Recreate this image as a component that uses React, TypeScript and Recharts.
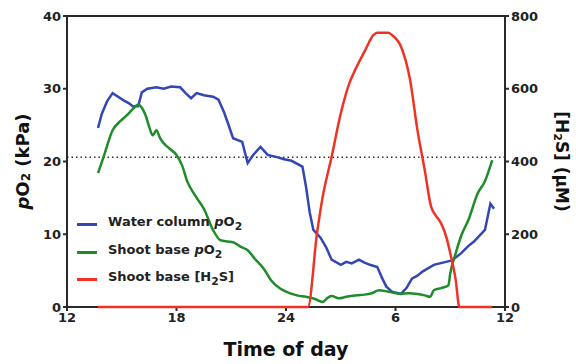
import { LineChart, Line, XAxis, YAxis, ReferenceLine, Legend, Label } from "recharts";

// time in hours from midnight of day 1 (24 = midnight, 30 = 6 am next day)
const waterTime = [
  13.7, 13.9, 14.2, 14.5, 14.8, 15.1, 15.4, 15.6, 15.9, 16.1, 16.4, 16.9, 17.3, 17.7, 18.2,
  18.5, 18.8, 19.1, 19.5, 20.0, 20.3, 20.6, 20.8, 21.1, 21.6, 21.9, 22.2, 22.6, 23.0, 23.5,
  23.9, 24.3, 24.9, 25.1, 25.3, 25.5, 25.9, 26.2, 26.5, 27.0, 27.3, 27.6, 28.0, 28.3, 28.6,
  29.0, 29.3, 29.5, 29.8, 30.3, 30.6, 30.9, 31.2, 31.5, 32.1, 32.6, 33.1, 33.6, 34.0, 34.3,
  34.9, 35.2, 35.4,
];
const waterPO2 = [
  24.6, 26.5, 28.3, 29.4, 28.9, 28.4, 28.0, 27.6, 27.6, 29.5, 30.0, 30.2, 30.0, 30.3, 30.2,
  29.4, 28.7, 29.4, 29.1, 28.9, 28.5, 26.8, 25.4, 23.2, 22.7, 19.8, 20.9, 22.0, 20.9, 20.6,
  20.3, 20.1, 19.3, 16.5, 13.0, 10.6, 9.5, 8.2, 6.5, 5.8, 6.2, 6.0, 6.5, 6.1, 5.8,
  5.5, 3.8, 2.8, 2.1, 1.8, 2.6, 3.9, 4.3, 4.9, 5.8, 6.1, 6.4, 7.4, 8.4, 9.0,
  10.6, 14.2, 13.5,
];

const shootTime = [
  13.7, 14.0, 14.5, 14.9, 15.3, 15.6, 15.9, 16.1, 16.3, 16.5, 16.7, 16.9, 17.1, 17.3, 17.6,
  18.0, 18.3, 18.6, 19.0, 19.5, 20.0, 20.4, 20.8, 21.1, 21.5, 21.9, 22.3, 22.8, 23.2, 23.7,
  24.0, 24.6, 25.1, 25.6, 26.0, 26.3, 26.5, 26.9, 27.3, 27.9, 28.3, 28.7, 29.1, 29.6, 30.3,
  30.7, 31.2, 31.6, 31.9, 32.1, 32.5, 32.9, 33.0, 33.3, 33.6, 34.0, 34.5, 34.9, 35.3,
];
const shootPO2 = [
  18.4, 20.6, 24.3, 25.5, 26.4, 27.2, 27.8, 27.4, 26.4, 24.8, 23.6, 24.3, 23.2, 22.5, 21.8,
  20.9, 19.5, 17.2, 15.4, 13.5, 10.6, 9.2, 9.0, 8.9, 8.3, 7.8, 6.6, 5.2, 3.6, 2.5,
  2.1, 1.6, 1.4, 1.1, 0.7, 1.3, 1.5, 1.2, 1.4, 1.6, 1.7, 1.9, 2.3, 2.1, 1.8,
  1.9, 1.8, 1.6, 1.4, 2.3, 2.6, 3.0, 4.6, 7.4, 9.8, 12.0, 15.6, 17.3, 20.2,
];

const h2sTime = [
  13.7, 25.2, 25.7, 26.0, 26.5, 27.0, 27.5, 27.7, 28.3, 28.8, 29.0, 29.6, 29.8, 30.3, 30.8,
  31.2, 31.6, 31.95, 32.2, 32.5, 32.8, 33.0, 33.3, 33.5, 35.3,
];
const h2sConc = [
  0, 0, 203, 300, 413, 532, 619, 642, 702, 748, 754, 754, 748, 716, 624,
  487, 377, 276, 252, 230, 190, 148, 74, 0, 0,
];

const timeTicks = [12, 18, 24, 30, 36];
const po2Ticks = [0, 10, 20, 30, 40];
const h2sTicks = [0, 200, 400, 600, 800];
const airPO2 = 20.6;

const waterData = waterTime.map((t, i) => ({ t, v: waterPO2[i] }));
const shootData = shootTime.map((t, i) => ({ t, v: shootPO2[i] }));
const h2sData = h2sTime.map((t, i) => ({ t, v: h2sConc[i] }));

const BLUE = "#3346b4";
const GREEN = "#1f8c2a";
const RED = "#ee3226";
const AXIS = "#2a2a2a";
const FONT = "'DejaVu Sans', 'Liberation Sans', Arial, sans-serif";

const tickStyle = { fill: "#222", fontSize: 13, fontWeight: 700, fontFamily: FONT };

const legendItems = [
  { color: BLUE, label: <>Water column <i>p</i>O<sub>2</sub></> },
  { color: GREEN, label: <>Shoot base <i>p</i>O<sub>2</sub></> },
  { color: RED, label: <>Shoot base [H<sub>2</sub>S]</> },
];

const ChartLegend = () => (
  <div style={{ fontFamily: FONT, fontWeight: 700, fontSize: 13, color: "#222" }}>
    {legendItems.map((item, i) => (
      <div key={i} style={{ display: "flex", alignItems: "center", height: 27.5 }}>
        <span style={{ display: "inline-block", width: 20, height: 3, background: item.color, marginRight: 11 }} />
        <span style={{ whiteSpace: "nowrap", lineHeight: "14px" }}>{item.label}</span>
      </div>
    ))}
  </div>
);

export default function App() {
  return (
    <div style={{ position: "absolute", left: 0, top: 0 }}>
      <LineChart width={576} height={364} margin={{ top: 16, right: 0, bottom: 0, left: 0 }}>
        <XAxis
          dataKey="t"
          type="number"
          domain={[12, 36]}
          ticks={timeTicks}
          tickFormatter={(v: number) => String(v > 24 ? v - 24 : v)}
          height={57}
          stroke={AXIS}
          strokeWidth={2}
          tickSize={4}
          tick={tickStyle}
          allowDuplicatedCategory={false}
        >
          <Label
            content={({ viewBox }: any) => (
              <text
                x={viewBox.x + viewBox.width / 2}
                y={viewBox.y + 49}
                textAnchor="middle"
                fontSize={19}
                fontWeight={700}
                fontFamily={FONT}
                fill="#111"
              >
                Time of day
              </text>
            )}
          />
        </XAxis>
        <YAxis
          yAxisId="left"
          domain={[0, 40]}
          ticks={po2Ticks}
          width={67}
          stroke={AXIS}
          strokeWidth={2}
          tickSize={4}
          tick={tickStyle}
        >
          <Label
            content={({ viewBox }: any) => {
              const cx = 22;
              const cy = viewBox.y + viewBox.height / 2;
              return (
                <text
                  x={cx}
                  y={cy}
                  transform={`rotate(-90 ${cx} ${cy})`}
                  textAnchor="middle"
                  dominantBaseline="central"
                  fontSize={18}
                  fontWeight={700}
                  fontFamily={FONT}
                  fill="#111"
                >
                  <tspan fontStyle="italic">p</tspan>
                  <tspan>O</tspan>
                  <tspan fontSize={12} dy={4}>2</tspan>
                  <tspan dy={-4}> (kPa)</tspan>
                </text>
              );
            }}
          />
        </YAxis>
        <YAxis
          yAxisId="right"
          orientation="right"
          domain={[0, 800]}
          ticks={h2sTicks}
          width={71}
          stroke={AXIS}
          strokeWidth={2}
          tickSize={4}
          tick={tickStyle}
        >
          <Label
            content={({ viewBox }: any) => {
              const cx = 562;
              const cy = viewBox.y + viewBox.height / 2;
              return (
                <text
                  x={cx}
                  y={cy}
                  transform={`rotate(90 ${cx} ${cy})`}
                  textAnchor="middle"
                  dominantBaseline="central"
                  fontSize={17}
                  fontWeight={700}
                  fontFamily={FONT}
                  fill="#111"
                >
                  <tspan>[H</tspan>
                  <tspan fontSize={11} dy={4}>2</tspan>
                  <tspan dy={-4}>S] (µM)</tspan>
                </text>
              );
            }}
          />
        </YAxis>

        <ReferenceLine yAxisId="left" y={40} stroke={AXIS} strokeWidth={2} />
        <ReferenceLine yAxisId="left" y={airPO2} stroke="#333" strokeWidth={1.5} strokeDasharray="1.5 3" />

        <Legend
          layout="vertical"
          align="center"
          verticalAlign="middle"
          content={() => <ChartLegend />}
          wrapperStyle={{ left: 77, top: 211, width: 200, height: 84 }}
        />

        <Line yAxisId="left" data={waterData} dataKey="v" type="linear" stroke={BLUE} strokeWidth={2.5} dot={false} isAnimationActive={false} zIndex={1000} />
        <Line yAxisId="left" data={shootData} dataKey="v" type="monotone" stroke={GREEN} strokeWidth={2.5} dot={false} isAnimationActive={false} zIndex={1000} />
        <Line yAxisId="right" data={h2sData} dataKey="v" type="monotone" stroke={RED} strokeWidth={2.5} dot={false} isAnimationActive={false} zIndex={1000} />
      </LineChart>
    </div>
  );
}
